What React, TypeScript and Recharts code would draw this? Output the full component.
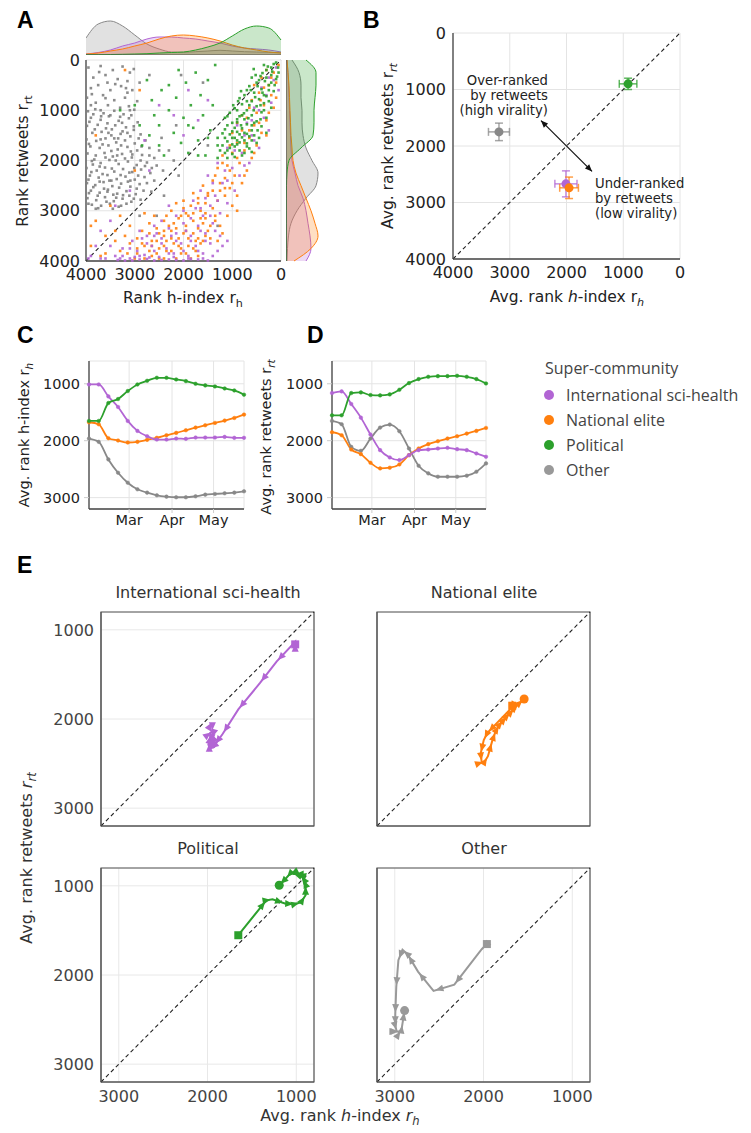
import React from 'react';
import {
  ScatterChart, Scatter, XAxis, YAxis, CartesianGrid, ReferenceLine, ReferenceArea,
  LineChart, Line, AreaChart, Area, ErrorBar,
} from 'recharts';

const FONT = '"DejaVu Sans", sans-serif';
const SCI = '#b265d4';
const NAT = '#ff7f0e';
const POL = '#2ca02c';
const OTH = '#888888';

const groupNames = ['International sci-health', 'National elite', 'Political', 'Other'];
const groupColors = [SCI, NAT, POL, OTH];

// ---------- Panel A: scatter (rank h-index, rank retweets) ----------
const scatterOther: number[][] = [
  [3950,150],[3700,120],[3450,200],[3250,130],[3100,250],[3850,350],[3600,300],[3350,380],[3150,420],[3900,560],
  [3750,500],[3500,600],[3280,520],[3050,600],[3980,750],[3650,700],[3420,800],[3200,750],[2950,820],[3800,850],
  [3550,900],[3120,920],[2900,450],[2700,300],[3300,950],[3020,180],[3560,450],[3880,680],[3730,240],[3180,560],
  [3960,1020],[3810,980],[3640,1060],[3420,1010],[3230,1080],[3010,990],
  [3900,1150],[3700,1190],[3530,1120],[3330,1210],[3120,1160],[2940,1240],
  [3980,1310],[3760,1290],[3590,1360],[3400,1300],[3180,1340],[3020,1390],
  [3870,1450],[3680,1430],[3480,1500],[3290,1470],[3090,1520],[2880,1480],
  [3990,1580],[3790,1610],[3600,1560],[3380,1640],[3200,1600],[3000,1660],[2780,1600],
  [3910,1720],[3720,1750],[3540,1700],[3350,1780],[3150,1730],[2950,1800],[2700,1750],
  [3970,1860],[3800,1900],[3620,1850],[3450,1920],[3260,1870],[3060,1940],[2850,1890],[2600,1950],
  [3880,2010],[3700,2050],[3520,1990],[3330,2070],[3140,2020],[2960,2090],[2750,2040],[2550,2100],
  [3990,2150],[3780,2200],[3610,2140],[3420,2220],[3240,2170],[3050,2230],[2870,2180],[2680,2250],
  [3920,2300],[3740,2340],[3560,2290],[3370,2370],[3190,2320],[3000,2380],[2800,2330],
  [3980,2450],[3810,2490],[3640,2430],[3460,2510],[3280,2460],[3090,2520],[2900,2470],
  [3900,2600],[3720,2640],[3550,2580],[3360,2660],[3170,2610],[2980,2670],
  [3970,2750],[3790,2790],[3610,2730],[3430,2810],[3250,2760],[3070,2820],
  [3880,2880],[3690,2900],[3510,2860],[3330,2920],
  [3850,1080],[3560,1260],[3250,1420],[3660,1680],[3420,1560],[3860,2080],[3480,2400],[3110,2700],[3750,2950],[3050,1880],
  [3930,1230],[3690,1120],[3470,1380],[3260,1250],[3070,1100],[3820,1380],[3540,1450],[3340,1560],[3150,1450],[2920,1560],
  [3940,1670],[3700,1580],[3480,1810],[3280,1700],[3080,1820],[2860,1720],[3830,1980],[3600,1940],[3390,2000],[3200,1960],
  [3010,2150],[2790,2110],[3890,2230],[3660,2270],[3470,2160],[3290,2290],[3110,2240],[2930,2300],[3950,2380],[3720,2420],
  [3520,2400],[3320,2540],[3140,2420],[2960,2560],[3850,2530],[3630,2560],[3440,2680],[3240,2690],[3020,2760],[3940,2650],
  [3760,2700],[3580,2820],[3380,2740],[3170,2860],[3950,2860],[3800,2960],[3450,2960],[2880,2000],[2700,1900],[2650,2150],
  [2750,2450],[2820,2600],[2500,1800],[2420,2200],[3700,1000],[3500,1100],[3300,1130],[3100,1000],[3900,900],[3150,650],
  [2880,2780],[2660,2620],[3020,1320],[3360,1900],[3720,2120],[3560,2620],[3090,2400],[3280,2900],[3600,760],[3400,480],
  [2450,1550],[2300,1800],[2200,2000],[2100,2300],[2400,2700],[2600,2400],[2150,1300],[2050,300],[1600,450],[2550,3100],
  [2900,3100],[1500,1700],[1300,3300],
];
const scatterPolitical: number[][] = [
  [3000,900],[2850,1700],[2700,1500],[2600,1100],[2500,1300],[2450,600],[2400,1900],[2300,1000],[2200,1450],[2150,750],
  [2100,200],[2050,1650],[2000,1150],[1950,450],[1900,1850],[1850,900],[1800,1350],[1750,250],[1700,1600],[1650,700],
  [1600,1100],[1550,1900],[1500,400],[1450,1400],[1400,900],[1350,100],[1300,1700],[3300,1000],[2900,1300],[2750,400],
  [150,80],[60,150],[300,200],[200,300],[420,320],[100,380],[330,420],
  [500,450],[250,500],[650,520],[400,580],[150,620],[550,650],[750,700],[300,720],[450,780],[850,760],
  [600,820],[350,860],[800,880],[500,920],[200,950],[950,960],[700,1000],[400,1040],[1050,1050],[600,1100],[850,1120],[300,1150],[750,1180],[1150,1150],
  [500,1220],[900,1240],[700,1280],[400,1320],[1100,1300],[800,1360],[600,1400],[1000,1420],[300,1450],[850,1480],[1200,1460],
  [650,1520],[950,1550],[750,1600],[1100,1620],[500,1650],[900,1680],[700,1720],[1050,1750],[850,1800],[600,1830],[1000,1870],[800,1900],[1150,1850],[1300,1950],
  [100,50],[50,250],[200,150],[350,100],[250,600],[450,400],
  [700,600],[900,1000],[1000,1550],[550,1250],[450,1550],[750,1450],[350,700],[600,350],[950,1350],[1100,1950],[800,1100],[650,900],
  [180,230],[270,130],[380,260],[520,300],[300,350],[130,500],[480,520],[620,600],[380,650],[820,620],
  [530,740],[700,820],[420,900],[880,820],[980,900],[560,1000],[760,1060],[1100,1120],[420,1180],[670,1160],
  [900,1180],[1000,1250],[600,1300],[820,1300],[1150,1380],[480,1400],[700,1470],[900,1430],[1050,1480],[550,1500],
  [800,1540],[1150,1550],[600,1600],[850,1640],[1200,1700],[700,1660],[950,1720],[1100,1800],[750,1850],[950,1930],
  [1250,1800],[900,1600],[650,1760],[1000,1680],[1300,1550],[350,1000],[250,820],[200,450],[80,330],[560,180],
  [2500,1700],[1900,1300],[2300,500],[1700,1900],[2650,800],[1500,1550],
];
const scatterElite: number[][] = [
  [50,100],[150,250],[300,200],[100,450],[250,500],[400,350],[200,700],[450,650],[350,900],[600,800],
  [150,950],[500,1050],[300,1200],[700,1150],[550,1300],[400,1450],[800,1400],[650,1550],[500,1700],[900,1650],
  [750,1800],[1000,1850],[600,1950],[1200,1900],[850,2050],[1100,2100],[700,2200],[1300,2150],[950,2300],[1150,2350],
  [800,2450],[1400,2400],[1050,2550],[1250,2600],[1600,2500],[900,2700],
  [1500,2700],[1800,2650],[1300,2800],[1700,2850],[2000,2800],[1400,2950],[1650,3000],[1950,3050],[2250,3000],[1350,3100],
  [1550,3150],[1800,3200],[2100,3150],[2400,3200],[2700,3250],[1450,3300],[1700,3350],[1950,3300],[2250,3400],[2550,3350],
  [2850,3400],[1550,3500],[1800,3450],[2100,3550],[2400,3500],[2650,3600],[2950,3550],[3200,3500],[1650,3650],[1900,3700],
  [2200,3650],[2500,3750],[2800,3700],[3100,3650],[1750,3800],[2050,3850],[2350,3800],[2650,3900],[2950,3850],[3300,3800],
  [2150,3950],[1850,3950],[2500,3950],[3000,3950],[1500,3400],[2000,3450],[2300,3300],[2600,3100],[2000,2950],[1700,3550],
  [1250,3300],[1100,3100],[1000,2900],[900,3000],
  [1900,3100],[2200,3250],[2500,3450],[1750,3600],[2050,3750],[2350,3600],[2700,3800],[1600,3250],[1400,2600],[1150,2700],
  [1000,2450],[1550,2850],
  [200,350],[350,550],[550,500],[100,750],[420,800],[650,950],[250,1050],[800,1100],[450,1250],[900,1250],
  [650,1400],[300,1500],[1000,1450],[750,1650],[550,1850],[1050,1700],[900,1950],[1200,2050],[750,2300],[1050,2200],
  [1350,2300],[1250,2450],[1500,2650],[1150,2550],[1700,2750],[1850,2900],[2150,2850],[1550,3050],[1800,3050],[2050,3100],
  [2350,3100],[1350,3200],[1650,3150],[1950,3400],[2150,3350],[2400,3400],[2700,3450],[1600,3600],[1900,3550],[2250,3550],
  [2550,3600],[2850,3650],[1800,3750],[2100,3700],[2400,3700],[2650,3700],[2950,3750],[1950,3850],[2250,3800],[2550,3850],
  [2800,3950],[3150,3850],[1700,3900],[2400,3950],[1450,3550],[1300,3600],[1200,3450],[3400,3400],[3600,3850],[3900,3300],
  [3800,3200],[3600,3500],[3900,3700],[3300,3100],[3700,3900],[3500,2900],[3200,200],[2900,600],[3800,1500],[3100,3300],
  [3400,3600],[2800,3050],[3000,2200],
];
const scatterSci: number[][] = [
  [100,150],[250,350],[50,600],[400,550],[200,850],[550,950],[350,1150],[700,1250],[250,1400],[600,1500],
  [900,1300],[450,1750],[800,1850],[1100,1750],[650,2050],[1000,2150],[1300,2050],[850,2300],[1200,2450],[1500,2300],
  [950,2600],[1350,2700],[1650,2600],[1100,2850],[1450,2900],[1800,2800],[1250,3050],[1600,3100],[2000,3000],[2300,2900],
  [1400,3250],[1700,3300],[2000,3250],[2300,3350],[2600,3300],[2900,3400],[1550,3450],[1850,3500],[2150,3450],[2450,3550],
  [2750,3500],[3050,3600],[1450,3650],[1750,3700],[2050,3650],[2350,3750],[2650,3700],[2950,3800],[3250,3750],[1600,3850],
  [1900,3900],[2200,3850],[2500,3920],[2800,3880],[3100,3950],[3400,3900],[1700,3970],[2000,3990],[2300,3970],[2600,3990],
  [2900,3970],[3200,3990],[1500,3990],[2450,3980],[2750,3960],[2150,3980],[1850,3960],[3050,3990],[3350,3980],[3600,3950],
  [3800,3700],[3700,3400],[3500,3200],[3900,3900],[1300,3800],[1100,3600],[1250,3500],[1650,2950],
  [150,400],[300,700],[450,1000],[600,1200],[750,1500],[550,1600],[950,1800],[750,2100],[1150,2200],[1400,2450],
  [1100,2400],[1300,2800],[1550,2750],[1750,2950],[1450,3100],[1850,3150],[2150,3100],[2450,3200],[1650,3400],[1950,3400],
  [2250,3500],[2550,3450],[2850,3550],[1550,3600],[1850,3600],[2150,3600],[2450,3650],[2750,3650],[3100,3750],[1700,3800],
  [2000,3800],[2300,3850],[2600,3800],[2900,3900],[3250,3900],[1600,3950],[1900,3950],[2200,3920],[2700,3930],[3000,3920],
  [3300,3950],[1400,3900],[3500,3700],[3700,3950],[1200,3700],[3950,3950],[2600,3500],[1350,3400],
  [3400,2900],[2800,1600],[2500,900],[2200,1100],[1900,600],[3100,2600],[2700,2200],[2000,1500],[1700,1200],[1500,800],
];

// marginal densities (read as heights)
const topGrid = [4000,3750,3500,3250,3000,2750,2500,2250,2000,1750,1500,1250,1000,750,500,250,0];
const topOther = [17,31,34,29,20,11,6,3,2.7,3.3,4,4.7,4,3.3,3,2.7,2.3];
const topSci = [1,2.5,5,9,12,16,18,18,17,16,14,12,9,7,6,5,3];
const topElite = [1,2,4,6,9,12,16,19,20,19,17,14,10,7,5,3,2];
const topPolitical = [0.3,0.3,0.5,0.7,1,1.3,2,2.5,3,5,8,12,19,26,29,27,15];

const rightGrid = [0,250,500,750,1000,1250,1500,1750,2000,2250,2500,2750,3000,3250,3500,3750,4000];
const rightPolitical = [20,30,30,29,28,28,27,15,3,1,0.5,0.3,0.3,0.3,0.3,0.3,0.3];
const rightOther = [6,13,15,15,16,16,17,20,26,32,30,20,11,5,2.5,1.5,1];
const rightElite = [1,2,3,3.5,4,4.5,5,6,7,10,15,20,25,29,32,25,8];
const rightSci = [1,2,2.5,3,3.5,4,4.5,5,6,9,12,17,20,22,24,25,20];

// ---------- Panel B: averages ----------
const avgH = [2010, 1955, 915, 3190];
const avgRt = [2670, 2740, 900, 1750];
const errH = [195, 165, 155, 185];
const errRt = [230, 190, 100, 155];

// ---------- Panels C, D, E: weekly time series ----------
const weekDay = [0,7,14,21,28,35,42,49,56,63,70,77,84,91,98,105,112];
const monthTicks = [29, 60, 90];
const monthLabels = ['Mar', 'Apr', 'May'];
const hSci = [1012,1012,1222,1408,1653,1828,1921,1980,1980,1962,1968,1945,1945,1945,1933,1950,1950];
const hElite = [1676,1711,1956,1997,2032,2020,1985,1950,1904,1863,1816,1770,1729,1688,1647,1601,1542];
const hPolitical = [1653,1653,1338,1268,1128,1012,948,895,895,924,953,1000,1029,1047,1082,1117,1192];
const hOther = [1962,2020,2329,2563,2738,2854,2913,2959,2983,2994,2994,2977,2948,2936,2924,2913,2889];
const rtSci = [1163,1134,1356,1595,1892,2166,2294,2341,2254,2166,2155,2137,2125,2149,2166,2224,2283];
const rtElite = [1851,1904,2155,2236,2388,2487,2475,2417,2254,2137,2061,2009,1962,1921,1875,1828,1776];
const rtPolitical = [1554,1554,1163,1152,1198,1204,1187,1105,988,918,878,866,866,860,878,918,994];
const rtOther = [1653,1711,2108,2178,1962,1770,1717,1834,2137,2440,2574,2633,2633,2633,2615,2545,2399];

const hSeries = [hSci, hElite, hPolitical, hOther];
const rtSeries = [rtSci, rtElite, rtPolitical, rtOther];

// ---------- helpers ----------
const toPts = (arr: number[][]) => arr.map(([x, y]) => ({ x, y }));
const tickStyle = (size: number, fill = '#222') => ({ fontSize: size, fill, fontFamily: FONT });
const spine = { stroke: '#444', strokeWidth: 1.3 };

const Pos: React.FC<{ left: number; top: number; children: React.ReactNode }> = ({ left, top, children }) => (
  <div style={{ position: 'absolute', left, top }}>{children}</div>
);

const dotShape = (color: string) => (p: any) => (
  <rect x={p.cx - 1.3} y={p.cy - 1.3} width={2.6} height={2.6} fill={color} fillOpacity={0.9} />
);

const DashedDiag = (p: any) => (
  <line x1={p.x1} y1={p.y1} x2={p.x2} y2={p.y2} stroke="#222" strokeWidth={1.1} strokeDasharray="4 3" />
);

const DoubleArrow = (p: any) => {
  const { x1, y1, x2, y2 } = p;
  const a = Math.atan2(y2 - y1, x2 - x1);
  const head = (x: number, y: number, ang: number) => {
    const L = 7, W = 3;
    const bx = x - L * Math.cos(ang), by = y - L * Math.sin(ang);
    const px = -Math.sin(ang) * W, py = Math.cos(ang) * W;
    return `${x},${y} ${bx + px},${by + py} ${bx - px},${by - py}`;
  };
  return (
    <g>
      <line x1={x1} y1={y1} x2={x2} y2={y2} stroke="#111" strokeWidth={1.2} />
      <polygon points={head(x2, y2, a)} fill="#111" />
      <polygon points={head(x1, y1, a + Math.PI)} fill="#111" />
    </g>
  );
};

// ---------- Panel A ----------
const PanelA = () => {
  const topData = topGrid.map((x, i) => ({ x, oth: topOther[i], sci: topSci[i], nat: topElite[i], pol: topPolitical[i] }));
  const rightData = rightGrid.map((y, i) => ({ y, oth: rightOther[i], sci: rightSci[i], nat: rightElite[i], pol: rightPolitical[i] }));
  const areaKeys: [string, string][] = [['oth', OTH], ['sci', SCI], ['nat', NAT], ['pol', POL]];
  return (
    <>
      <Pos left={36} top={50}>
        <ScatterChart width={257} height={241} margin={{ top: 10, right: 12, left: 0, bottom: 0 }}>
          <CartesianGrid stroke="#e4e4e4" />
          <XAxis type="number" dataKey="x" domain={[0, 4000]} reversed ticks={[0, 1000, 2000, 3000, 4000]}
            height={30} tick={tickStyle(16)} tickLine={false} tickMargin={2} axisLine={spine} />
          <YAxis type="number" dataKey="y" domain={[0, 4000]} reversed ticks={[0, 1000, 2000, 3000, 4000]}
            width={50} tick={tickStyle(16)} tickLine={false} tickMargin={0} axisLine={spine} />
          <Scatter data={toPts(scatterOther)} fill={OTH} shape={dotShape('#7f7f7f')} isAnimationActive={false} />
          <Scatter data={toPts(scatterElite)} fill={NAT} shape={dotShape(NAT)} isAnimationActive={false} />
          <Scatter data={toPts(scatterSci)} fill={SCI} shape={dotShape(SCI)} isAnimationActive={false} />
          <Scatter data={toPts(scatterPolitical)} fill={POL} shape={dotShape(POL)} isAnimationActive={false} />
          <ReferenceLine segment={[{ x: 4000, y: 4000 }, { x: 0, y: 0 }]} shape={DashedDiag} />
        </ScatterChart>
      </Pos>
      <Pos left={86} top={10}>
        <AreaChart width={197} height={45} data={topData} margin={{ top: 10, right: 2, left: 0, bottom: 0 }}>
          <XAxis type="number" dataKey="x" domain={[0, 4000]} reversed hide />
          <YAxis type="number" domain={[0, 35]} hide />
          {areaKeys.map(([k, c]) => (
            <Area key={k} type="monotone" dataKey={k} stroke={c} strokeWidth={1} fill={c} fillOpacity={0.25}
              dot={false} activeDot={false} isAnimationActive={false} />
          ))}
          <ReferenceLine y={0} stroke="#555" strokeWidth={1.2} />
        </AreaChart>
      </Pos>
      <Pos left={286} top={50}>
        <AreaChart layout="vertical" width={40} height={221} data={rightData} margin={{ top: 10, right: 6, left: 0, bottom: 10 }}>
          <XAxis type="number" domain={[0, 34]} hide />
          <YAxis type="number" dataKey="y" domain={[0, 4000]} hide />
          {areaKeys.map(([k, c]) => (
            <Area key={k} type="monotone" dataKey={k} stroke={c} strokeWidth={1} fill={c} fillOpacity={0.25}
              dot={false} activeDot={false} isAnimationActive={false} />
          ))}
          <ReferenceLine x={0} stroke="#555" strokeWidth={1.2} />
        </AreaChart>
      </Pos>
    </>
  );
};

// ---------- Panel B ----------
const PanelB = () => (
  <Pos left={403} top={23}>
    <ScatterChart width={289} height={266} margin={{ top: 10, right: 12, left: 0, bottom: 0 }}>
      <CartesianGrid stroke="#e4e4e4" />
      <XAxis type="number" dataKey="x" domain={[0, 4000]} reversed ticks={[0, 1000, 2000, 3000, 4000]}
        height={30} tick={tickStyle(16)} tickLine={false} tickMargin={2} axisLine={spine} />
      <YAxis type="number" dataKey="y" domain={[0, 4000]} reversed ticks={[0, 1000, 2000, 3000, 4000]}
        width={50} tick={tickStyle(16)} tickLine={false} tickMargin={1} axisLine={spine} />
      <ReferenceLine segment={[{ x: 4000, y: 4000 }, { x: 0, y: 0 }]} shape={DashedDiag} />
      <ReferenceLine segment={[{ x: 2450, y: 1550 }, { x: 1550, y: 2450 }]} shape={DoubleArrow} />
      {[3, 2, 0, 1].map((g) => (
        <Scatter key={g} data={[{ x: avgH[g], y: avgRt[g], ex: errH[g], ey: errRt[g] }]} fill={groupColors[g]}
          shape={(p: any) => <circle cx={p.cx} cy={p.cy} r={4.5} fill={groupColors[g]} />} isAnimationActive={false}>
          <ErrorBar dataKey="ex" direction="x" width={4} stroke={groupColors[g]} strokeOpacity={0.75} strokeWidth={1.5} isAnimationActive={false} />
          <ErrorBar dataKey="ey" direction="y" width={4} stroke={groupColors[g]} strokeOpacity={0.75} strokeWidth={1.5} isAnimationActive={false} />
        </Scatter>
      ))}
    </ScatterChart>
  </Pos>
);

// ---------- Panels C & D ----------
const TimePanel: React.FC<{ left: number; series: number[][] }> = ({ left, series }) => {
  const data = weekDay.map((d, i) => ({ d, s0: series[0][i], s1: series[1][i], s2: series[2][i], s3: series[3][i] }));
  return (
    <Pos left={left} top={351}>
      <LineChart width={left === 39 ? 215 : 214} height={186} data={data} margin={{ top: 10, right: 10, left: 0, bottom: 0 }}>
        <CartesianGrid stroke="#e4e4e4" />
        <XAxis type="number" dataKey="d" domain={[0, 112]} ticks={monthTicks}
          tickFormatter={(v: number) => monthLabels[monthTicks.indexOf(v)]}
          height={28} tick={tickStyle(14.5)} tickLine={{ stroke: '#ccc' }} tickSize={4} tickMargin={2} axisLine={spine} />
        <YAxis type="number" domain={[600, 3200]} reversed ticks={[1000, 2000, 3000]}
          width={50} tick={tickStyle(14.5)} tickLine={{ stroke: '#ccc' }} tickSize={5} tickMargin={4} axisLine={spine} />
        {[3, 1, 0, 2].map((g) => (
          <Line key={g} type="monotone" dataKey={`s${g}`} stroke={groupColors[g]} strokeWidth={1.8}
            dot={{ r: 1.8, fill: groupColors[g], stroke: groupColors[g], strokeWidth: 0.5 }} activeDot={false}
            isAnimationActive={false} />
        ))}
      </LineChart>
    </Pos>
  );
};

// ---------- Panel E ----------
const makeTrajShape = (color: string, last: number) => (p: any) => {
  const { cx, cy, payload } = p;
  const i = payload.i;
  if (i === 0) return <rect x={cx - 4} y={cy - 4} width={8} height={8} fill={color} />;
  const parts: React.ReactNode[] = [];
  const dx = -(payload.x - payload.px);
  const dy = payload.y - payload.py;
  const len = Math.hypot(dx, dy);
  if (len > 0) {
    const ux = dx / len, uy = dy / len;
    const tx = cx - ux * 2, ty = cy - uy * 2;
    const L = 8, W = 3.5;
    const bx = tx - ux * L, by = ty - uy * L;
    const qx = -uy * W, qy = ux * W;
    parts.push(<polygon key="a" points={`${tx},${ty} ${bx + qx},${by + qy} ${bx - qx},${by - qy}`} fill={color} />);
  }
  if (i === last) parts.push(<circle key="c" cx={cx} cy={cy} r={4.5} fill={color} />);
  return <g>{parts}</g>;
};

const TrajPanel: React.FC<{ g: number; left: number; top: number; showX: boolean; showY: boolean }> = ({ g, left, top, showX, showY }) => {
  const hs = hSeries[g], rs = rtSeries[g];
  const data = hs.map((x, i) => ({ i, x, y: rs[i], px: i > 0 ? hs[i - 1] : x, py: i > 0 ? rs[i - 1] : rs[i] }));
  const color = groupColors[g] === OTH ? '#999999' : groupColors[g];
  return (
    <Pos left={left - 50} top={top - 10}>
      <ScatterChart width={273} height={254} margin={{ top: 10, right: 10, left: 0, bottom: 0 }}>
        <CartesianGrid stroke="#e8e8e8" />
        <XAxis type="number" dataKey="x" domain={[800, 3200]} reversed ticks={[1000, 2000, 3000]}
          height={30} tick={showX ? tickStyle(16, '#444') : false} tickLine={false} tickMargin={3} axisLine={{ stroke: '#555' }} />
        <YAxis type="number" dataKey="y" domain={[800, 3200]} reversed ticks={[1000, 2000, 3000]}
          width={50} tick={showY ? tickStyle(16, '#444') : false} tickLine={false} tickMargin={1} axisLine={{ stroke: '#555' }} />
        <ReferenceArea x1={800} x2={3200} y1={800} y2={3200} fill="none" stroke="#555" strokeWidth={1.2} ifOverflow="visible" />
        <ReferenceLine segment={[{ x: 3200, y: 3200 }, { x: 800, y: 800 }]} shape={DashedDiag} />
        <Scatter data={data} fill={color} line={{ stroke: color, strokeWidth: 2 }} lineType="joint"
          shape={makeTrajShape(color, data.length - 1)} isAnimationActive={false} />
      </ScatterChart>
    </Pos>
  );
};

// ---------- overlay text ----------
const Sub: React.FC<{ t: string; italic?: boolean; size: number }> = ({ t, italic, size }) => (
  <tspan dy={size * 0.25} fontSize={size * 0.72} fontStyle={italic ? 'italic' : 'normal'}>{t}</tspan>
);

const Overlay = () => {
  const letter = { fontFamily: '"Liberation Sans", Arial, sans-serif', fontWeight: 700, fontSize: 23, fill: '#000' } as const;
  const lab = (size: number, fill = '#222') => ({ fontFamily: FONT, fontSize: size, fill });
  return (
    <svg width={751} height={1133} style={{ position: 'absolute', left: 0, top: 0, pointerEvents: 'none' }}>
      <text x={17} y={28} {...letter}>A</text>
      <text x={363} y={28} {...letter}>B</text>
      <text x={17} y={343} {...letter}>C</text>
      <text x={307} y={343} {...letter}>D</text>
      <text x={17} y={573} {...letter}>E</text>

      {/* A labels */}
      <text x={183} y={303} textAnchor="middle" {...lab(15.5)}>Rank h-index r<Sub t="h" size={15.5} /></text>
      <text transform="translate(28,161) rotate(-90)" textAnchor="middle" {...lab(15.5)}>Rank retweets r<Sub t="rt" size={15.5} /></text>

      {/* B labels */}
      <text x={567} y={302} textAnchor="middle" {...lab(15.5)}>Avg. rank <tspan fontStyle="italic">h</tspan>-index r<Sub t="h" italic size={15.5} /></text>
      <text transform="translate(393,146) rotate(-90)" textAnchor="middle" {...lab(15.5)}>Avg. rank retweets r<Sub t="rt" italic size={15.5} /></text>
      <g {...lab(13.2)} textAnchor="end">
        <text x={548} y={85}>Over-ranked</text>
        <text x={548} y={100}>by retweets</text>
        <text x={548} y={115}>(high virality)</text>
      </g>
      <g {...lab(13.2)} textAnchor="start">
        <text x={595} y={188}>Under-ranked</text>
        <text x={595} y={203}>by retweets</text>
        <text x={595} y={218}>(low virality)</text>
      </g>

      {/* C, D labels */}
      <text transform="translate(29,435) rotate(-90)" textAnchor="middle" {...lab(14.5)}>Avg. rank h-index r<Sub t="h" italic size={14.5} /></text>
      <text transform="translate(271,437) rotate(-90)" textAnchor="middle" {...lab(14.5)}>Avg. rank retweets r<Sub t="rt" italic size={14.5} /></text>

      {/* Legend */}
      <text x={545} y={374} fontFamily='"Open Sans", sans-serif' fontSize={16} fill="#444">Super-community</text>
      {groupNames.map((n, i) => (
        <g key={n}>
          <circle cx={549} cy={395 + i * 25} r={5} fill={groupColors[i] === OTH ? '#999' : groupColors[i]} />
          <text x={566} y={401 + i * 25} fontFamily='"Open Sans", sans-serif' fontSize={16} fill="#444">{n}</text>
        </g>
      ))}

      {/* E titles and labels */}
      <text x={208} y={598} textAnchor="middle" {...lab(16, '#333')}>{groupNames[0]}</text>
      <text x={484} y={598} textAnchor="middle" {...lab(16, '#333')}>{groupNames[1]}</text>
      <text x={208} y={854} textAnchor="middle" {...lab(16, '#333')}>{groupNames[2]}</text>
      <text x={484} y={854} textAnchor="middle" {...lab(16, '#333')}>{groupNames[3]}</text>
      <text x={340} y={1121} textAnchor="middle" {...lab(16, '#333')}>Avg. rank <tspan fontStyle="italic">h</tspan>-index <tspan fontStyle="italic">r</tspan><Sub t="h" italic size={16} /></text>
      <text transform="translate(32,858) rotate(-90)" textAnchor="middle" {...lab(16, '#333')}>Avg. rank retweets <tspan fontStyle="italic">r</tspan><Sub t="rt" italic size={16} /></text>
    </svg>
  );
};

export default function App() {
  return (
    <div style={{ position: 'absolute', left: 0, top: 0, width: 751, height: 1133, background: '#fff', fontFamily: FONT }}>
      <PanelA />
      <PanelB />
      <TimePanel left={39} series={hSeries} />
      <TimePanel left={282} series={rtSeries} />
      <TrajPanel g={0} left={101} top={612} showX={false} showY={true} />
      <TrajPanel g={1} left={377} top={612} showX={false} showY={false} />
      <TrajPanel g={2} left={101} top={868} showX={true} showY={true} />
      <TrajPanel g={3} left={377} top={868} showX={true} showY={false} />
      <Overlay />
    </div>
  );
}
